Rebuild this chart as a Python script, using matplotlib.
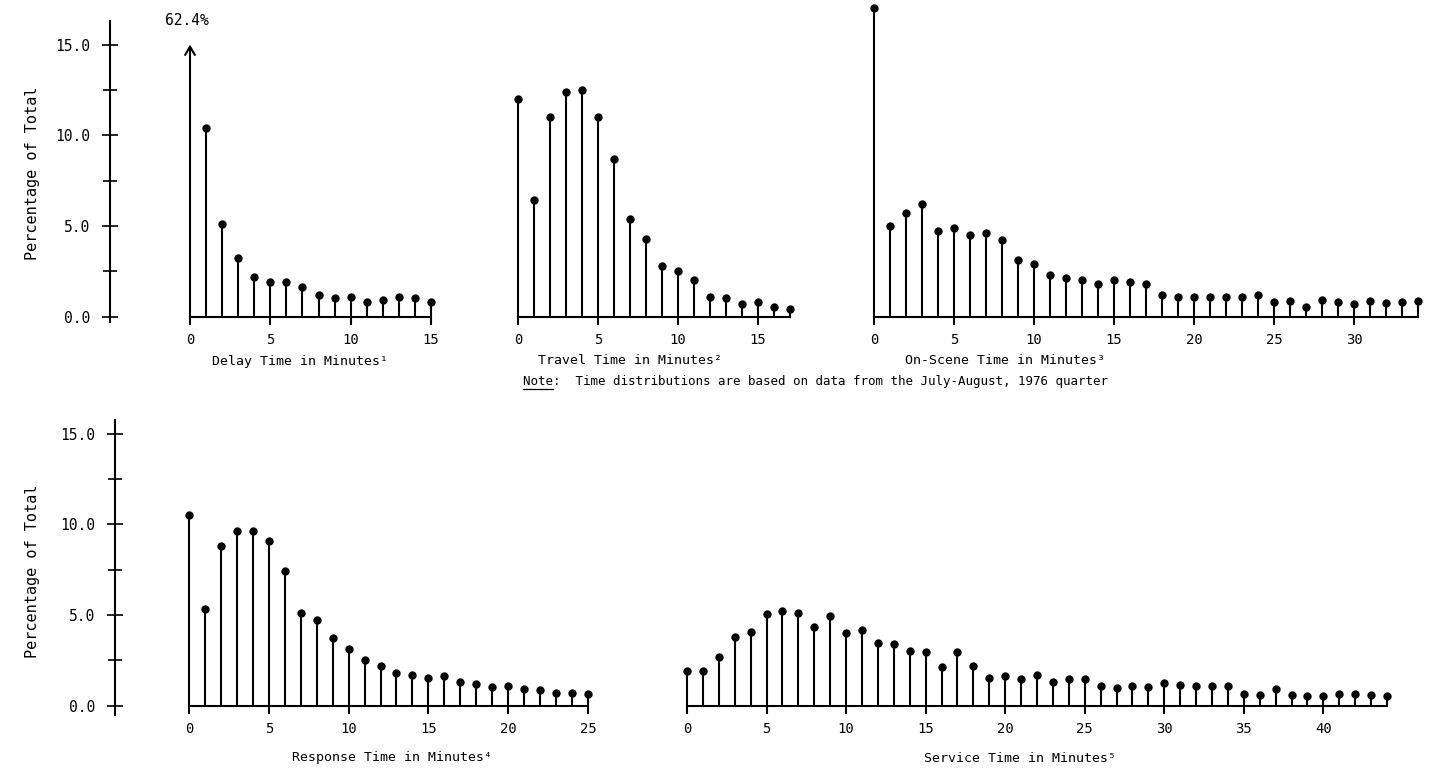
"""Time distributions (July-August 1976 quarter): stem plots of percentage of total."""
import matplotlib.pyplot as plt
from matplotlib.lines import Line2D
import numpy as np

# percentage of total per minute (index = minutes)
delay_pct = [62.4, 10.4, 5.1, 3.2, 2.2, 1.9, 1.9, 1.6, 1.2, 1.0, 1.1, 0.8, 0.9, 1.1, 1.0, 0.8]
travel_pct = [12.0, 6.4, 11.0, 12.4, 12.5, 11.0, 8.7, 5.4, 4.3, 2.8, 2.5, 2.0, 1.1, 1.0,
              0.7, 0.8, 0.5, 0.4]
onscene_pct = [17.0, 5.0, 5.7, 6.2, 4.7, 4.9, 4.5, 4.6, 4.2, 3.1, 2.9, 2.3, 2.1, 2.0, 1.8,
               2.0, 1.9, 1.8, 1.2, 1.1, 1.05, 1.1, 1.05, 1.05, 1.2, 0.8, 0.85, 0.5, 0.9,
               0.8, 0.7, 0.85, 0.75, 0.8, 0.85]
response_pct = [10.5, 5.3, 8.8, 9.6, 9.65, 9.1, 7.4, 5.1, 4.7, 3.7, 3.1, 2.5, 2.2, 1.8, 1.7,
                1.5, 1.6, 1.3, 1.2, 1.0, 1.1, 0.9, 0.85, 0.7, 0.7, 0.65]
service_pct = [1.9, 1.9, 2.7, 3.8, 4.05, 5.05, 5.2, 5.1, 4.35, 4.95, 4.0, 4.15, 3.45, 3.4,
               3.0, 2.95, 2.1, 2.95, 2.2, 1.5, 1.65, 1.45, 1.7, 1.3, 1.45, 1.45, 1.05, 0.95,
               1.1, 1.0, 1.25, 1.15, 1.1, 1.05, 1.05, 0.65, 0.6, 0.9, 0.6, 0.5, 0.5, 0.65,
               0.65, 0.6, 0.55]

y_ticks = [0, 5, 10, 15]
y_ticklabels = ['0.0', '5.0', '10.0', '15.0']
y_label = 'Percentage of Total'
note = 'Note:  Time distributions are based on data from the July-August, 1976 quarter'

plt.rcParams['font.family'] = ['DejaVu Sans Mono']

W, H = 1434, 771
fig = plt.figure(figsize=(W / 100, H / 100), dpi=100)
fig.patch.set_facecolor('white')

LW = 1.5


def panel(values, x0, x1, zero_px, unit_px, xticks, xlabel, label_x, label_y, arrow_cap=None):
    """Stem panel whose x range 0..len-1 sits between pixel columns x0 and x1."""
    xmax = len(values) - 1
    top_px = zero_px - 15 * unit_px
    ax = fig.add_axes([x0 / W, 1 - zero_px / H, (x1 - x0) / W, (zero_px - top_px) / H])
    ax.set_xlim(0, xmax)
    ax.set_ylim(0, 15)
    ax.patch.set_alpha(0)
    for side in ['top', 'right', 'left']:
        ax.spines[side].set_visible(False)
    ax.spines['bottom'].set_linewidth(LW)
    ax.yaxis.set_visible(False)

    x = np.arange(len(values))
    v = np.array(values, dtype=float)
    keep = np.ones(len(v), bool) if arrow_cap is None else v <= arrow_cap
    markerline, stemlines, baseline = ax.stem(x[keep], v[keep], linefmt='k-',
                                              markerfmt='ko', basefmt=' ')
    markerline.set_markersize(5)
    markerline.set_clip_on(False)
    stemlines.set_linewidth(LW)
    stemlines.set_clip_on(False)

    if arrow_cap is not None:
        # off-scale value: arrow up to the top of the scale, value written above
        for xi, vi in zip(x[~keep], v[~keep]):
            ax.annotate('', xy=(xi, arrow_cap), xytext=(xi, 0),
                        arrowprops=dict(arrowstyle='->,head_length=0.6,head_width=0.35',
                                        lw=LW, color='k', shrinkA=0, shrinkB=0),
                        annotation_clip=False)
            ax.annotate(f'{vi}%', xy=(xi, arrow_cap), xytext=(-2, 12),
                        textcoords='offset points', ha='center', va='bottom',
                        fontsize=10.5, annotation_clip=False)

    ax.set_xticks(xticks)
    ax.set_xticklabels([str(t) for t in xticks], fontsize=10)
    ax.tick_params(axis='x', direction='out', length=6, width=LW, pad=6)
    fig.text(label_x / W, 1 - label_y / H, xlabel, ha='center', va='center', fontsize=9.5)
    return ax


def y_scale(x_px, top_px, bot_px, zero_px, unit_px, label_y):
    ax = fig.add_axes([x_px / W, 1 - bot_px / H, 0.5 / W, (bot_px - top_px) / H])
    ax.set_ylim((zero_px - bot_px) / unit_px, (zero_px - top_px) / unit_px)
    ax.patch.set_alpha(0)
    for side in ['top', 'right', 'bottom']:
        ax.spines[side].set_visible(False)
    ax.spines['left'].set_linewidth(LW)
    ax.xaxis.set_visible(False)
    ax.set_yticks(y_ticks)
    ax.set_yticklabels(y_ticklabels, fontsize=10.5)
    ax.set_yticks([2.5, 7.5, 12.5], minor=True)
    ax.tick_params(axis='y', which='major', direction='inout', length=12, width=1.2, pad=8)
    ax.tick_params(axis='y', which='minor', direction='inout', length=10, width=1.2)
    fig.text(33 / W, 1 - label_y / H, y_label, rotation=90, ha='center', va='center',
             fontsize=11)
    return ax


# top row
top_zero, unit = 316.5, 18.13
y_scale(110, 21, 322, top_zero, unit, 173)
panel(delay_pct, 190, 431, top_zero, unit, [0, 5, 10, 15],
      'Delay Time in Minutes\u00b9', 300, 361, arrow_cap=15)
panel(travel_pct, 518, 790, top_zero, unit, [0, 5, 10, 15],
      'Travel Time in Minutes\u00b2', 630, 361)
panel(onscene_pct, 874, 1418, top_zero, unit, [0, 5, 10, 15, 20, 25, 30],
      'On-Scene Time in Minutes\u00b3', 1005, 361)

# note line, with "Note" underlined
note_txt = fig.text(523 / W, 1 - 381 / H, note, ha='left', va='center', fontsize=9)
fig.canvas.draw()
bb = note_txt.get_window_extent()
char_w = bb.width / len(note)
fig.add_artist(Line2D([bb.x0 / W, (bb.x0 + 4 * char_w) / W],
                      [(bb.y0 - 1) / H, (bb.y0 - 1) / H],
                      transform=fig.transFigure, color='k', lw=0.9))

# bottom row
bot_zero = 705.5
y_scale(115, 420, 715, bot_zero, unit, 571)
panel(response_pct, 189, 588, bot_zero, unit, [0, 5, 10, 15, 20, 25],
      'Response Time in Minutes\u2074', 392, 758)
panel(service_pct, 687, 1387, bot_zero, unit, [0, 5, 10, 15, 20, 25, 30, 35, 40],
      'Service Time in Minutes\u2075', 1020, 758)

fig.savefig('out.png', dpi=100)
